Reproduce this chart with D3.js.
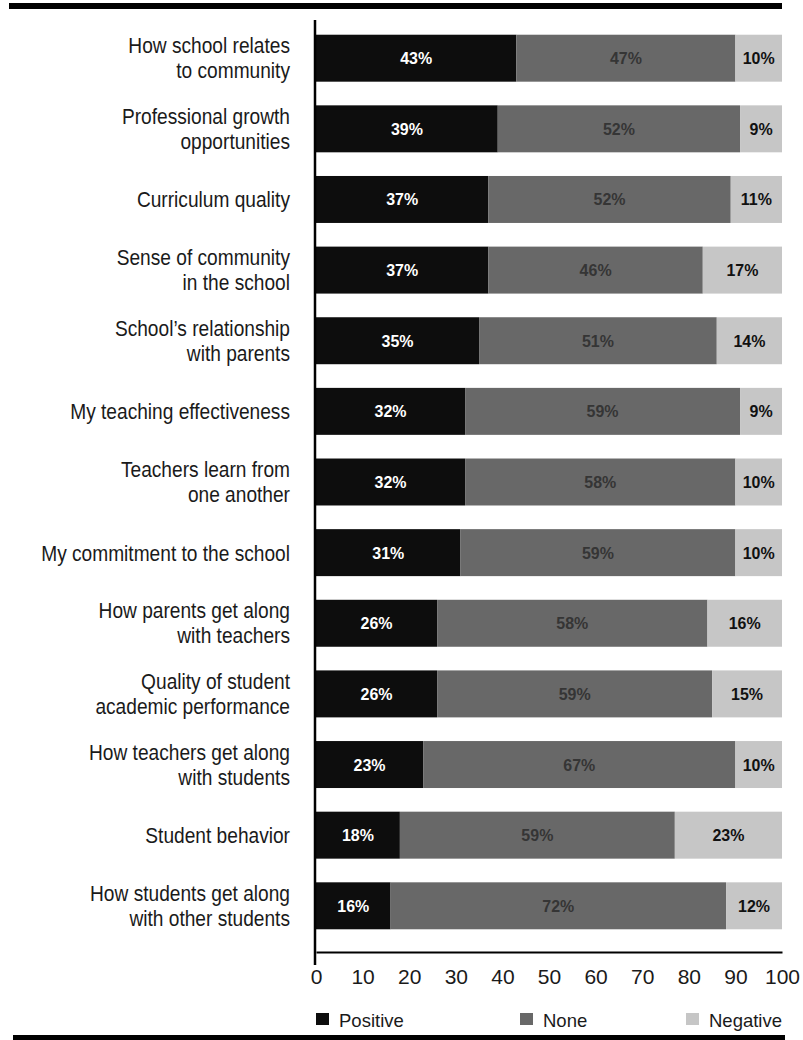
<!DOCTYPE html>
<html><head><meta charset="utf-8">
<script src="https://cdn.jsdelivr.net/npm/d3@7"></script>
<style>body{margin:0;background:#fff}svg{display:block}</style>
</head><body>
<script>
const categories = [
  ["How school relates","to community"],
  ["Professional growth","opportunities"],
  ["Curriculum quality"],
  ["Sense of community","in the school"],
  ["School’s relationship","with parents"],
  ["My teaching effectiveness"],
  ["Teachers learn from","one another"],
  ["My commitment to the school"],
  ["How parents get along","with teachers"],
  ["Quality of student","academic performance"],
  ["How teachers get along","with students"],
  ["Student behavior"],
  ["How students get along","with other students"]
];
const positive = [43,39,37,37,35,32,32,31,26,26,23,18,16];
const none     = [47,52,52,46,51,59,58,59,58,59,67,59,72];
const negative = [10,9,11,17,14,9,10,10,16,15,10,23,12];
const seriesNames = ["Positive","None","Negative"];
const xTicks = [0,10,20,30,40,50,60,70,80,90,100];

const W=803,H=1040;
const svg=d3.select("body").append("svg").attr("width",W).attr("height",H);
const FONT="'Liberation Sans',Arial,sans-serif";
const colors={Positive:"#0d0d0d",None:"#686868",Negative:"#c6c6c6"};
const textColors={Positive:"#ffffff",None:"#353535",Negative:"#111111"};

const x=d3.scaleLinear().domain([0,100]).range([316,782]);
const y=d3.scaleBand().domain(d3.range(categories.length)).range([22,942]).paddingInner(0.335).paddingOuter(0.18);

// rules
svg.append("rect").attr("x",9).attr("y",3).attr("width",773).attr("height",6).attr("fill","#000");
svg.append("rect").attr("x",13).attr("y",1035).attr("width",772).attr("height",5).attr("fill","#000");

const data=categories.map((c,i)=>({i,Positive:positive[i],None:none[i],Negative:negative[i]}));
const stack=d3.stack().keys(seriesNames)(data);

const g=svg.append("g");
stack.forEach(s=>{
  const key=s.key;
  g.selectAll(null).data(s).join("rect")
    .attr("x",d=>x(d[0])).attr("width",d=>x(d[1])-x(d[0]))
    .attr("y",(d,i)=>y(i)).attr("height",y.bandwidth())
    .attr("fill",colors[key]);
  g.selectAll(null).data(s).join("text")
    .attr("transform",(d,i)=>`translate(${(x(d[0])+x(d[1]))/2},${y(i)+y.bandwidth()/2+6}) scale(0.94,1)`)
    .attr("text-anchor","middle")
    .attr("font-family",FONT).attr("font-weight","bold").attr("font-size",17)
    .attr("fill",textColors[key])
    .text(d=>(d[1]-d[0])+"%");
});

// category labels (condensed)
categories.forEach((lines,i)=>{
  const c=y(i)+y.bandwidth()/2;
  const t=svg.append("text").attr("text-anchor","end")
    .attr("transform",`translate(290,${c}) scale(0.87,1)`)
    .attr("font-family",FONT).attr("font-size",22).attr("fill","#1a1a1a");
  if(lines.length===1){
    t.append("tspan").attr("x",0).attr("y",8).text(lines[0]);
  } else {
    t.append("tspan").attr("x",0).attr("y",-5).text(lines[0]);
    t.append("tspan").attr("x",0).attr("y",20).text(lines[1]);
  }
});

// axes
svg.append("line").attr("x1",315).attr("x2",315).attr("y1",20).attr("y2",965).attr("stroke","#000").attr("stroke-width",2.5);
const xAxis=svg.append("g").attr("transform","translate(0,952)")
  .call(d3.axisBottom(x).tickValues(xTicks).tickSize(0).tickPadding(17).tickFormat(d3.format("d")));
xAxis.select(".domain").attr("stroke","#000").attr("stroke-width",2);
xAxis.selectAll("text").attr("font-family",FONT).attr("font-size",21).attr("fill","#1a1a1a");

// legend
const legendX=[316,520,686];
seriesNames.forEach((n,i)=>{
  svg.append("rect").attr("x",legendX[i]).attr("y",1013).attr("width",13).attr("height",12).attr("fill",colors[n]);
  svg.append("text").attr("x",legendX[i]+23).attr("y",1027)
    .attr("font-family",FONT).attr("font-size",18.5).attr("fill","#1a1a1a").text(n);
});
</script>
</body></html>
